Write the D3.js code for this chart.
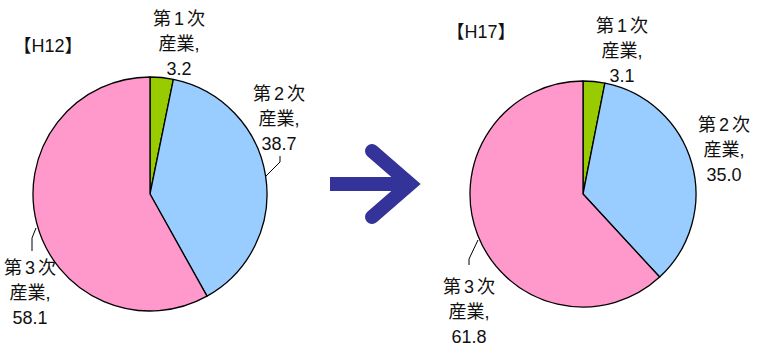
<!DOCTYPE html>
<html>
<head>
<meta charset="utf-8">
<script src="https://cdn.jsdelivr.net/npm/d3@7"></script>
<style>
  body { margin: 0; background: #fff; }
  text { font-family: "Liberation Sans", "Noto Sans CJK JP", sans-serif; font-size: 18px; font-weight: normal; fill: #111; }
</style>
</head>
<body>
<div id="chart"></div>
<script>
// data
const sectors = ['第1次', '第2次', '第3次'];
const years = ['H12', 'H17'];
const values_H12 = [3.2, 38.7, 58.1];
const values_H17 = [3.1, 35.0, 61.8];
const sector_colors = ['#99CC00', '#99CCFF', '#FF99CC'];

// chart static params
const width = 758, height = 349;

// per-pie layout: centre, radius, title spot, label spots and leader lines
const layouts = [
  { values: values_H12, cx: 150, cy: 194, r: 117, title: [48, 52],
    labels: [[179, 25], [279, 100], [30, 274]],
    leaders: [null, [[280, 156], [280, 162], [266, 176]], [[32, 251], [32, 238], [36, 228]]] },
  { values: values_H17, cx: 583, cy: 194, r: 113, title: [481, 38],
    labels: [[622, 32], [724, 131], [469, 293]],
    leaders: [null, null, [[469, 265], [469, 259], [478, 240]]] }
];
const line_gap = 25;

const svg = d3.select('#chart')
  .append('svg')
    .attr('width', width)
    .attr('height', height);

const pie = d3.pie().sort(null).value(d => d);

layouts.forEach((lay, i) => {
  const arc = d3.arc().innerRadius(0).outerRadius(lay.r);
  const g = svg.append('g')
    .attr('transform', `translate(${lay.cx},${lay.cy})`);

  g.selectAll('path')
    .data(pie(lay.values))
    .join('path')
      .attr('d', arc)
      .attr('fill', (d, k) => sector_colors[k])
      .attr('stroke', '#000')
      .attr('stroke-width', 1.3)
      .attr('stroke-linejoin', 'round');

  // title
  svg.append('text')
    .attr('x', lay.title[0])
    .attr('y', lay.title[1])
    .attr('text-anchor', 'middle')
    .text('【' + years[i] + '】');

  // labels
  lay.values.forEach((v, k) => {
    const [lx, ly] = lay.labels[k];
    const t = svg.append('text')
      .attr('text-anchor', 'middle');
    // sector name: a little air around the digit, as in the original
    const name = sectors[k];
    const first = t.append('tspan')
      .attr('x', lx)
      .attr('y', ly);
    first.append('tspan').text(name[0]);
    first.append('tspan').attr('dx', 3).text(name[1]);
    first.append('tspan').attr('dx', 3).text(name[2]);
    ['産業,', v.toFixed(1)].forEach((s, n) => {
      t.append('tspan')
        .attr('x', lx)
        .attr('y', ly + (n + 1) * line_gap)
        .text(s);
    });
    if (lay.leaders[k]) {
      svg.append('path')
        .attr('d', d3.line()(lay.leaders[k]))
        .attr('fill', 'none')
        .attr('stroke', '#000')
        .attr('stroke-width', 1);
    }
  });
});

// arrow between the pies
const arrow = svg.append('g')
  .attr('stroke', '#333399')
  .attr('stroke-width', 14)
  .attr('fill', 'none');
arrow.append('path')
  .attr('d', 'M330,184 L410,184');
arrow.append('path')
  .attr('d', 'M372,151 L410,184 L372,217')
  .attr('stroke-linecap', 'round')
  .attr('stroke-linejoin', 'miter');
</script>
</body>
</html>
